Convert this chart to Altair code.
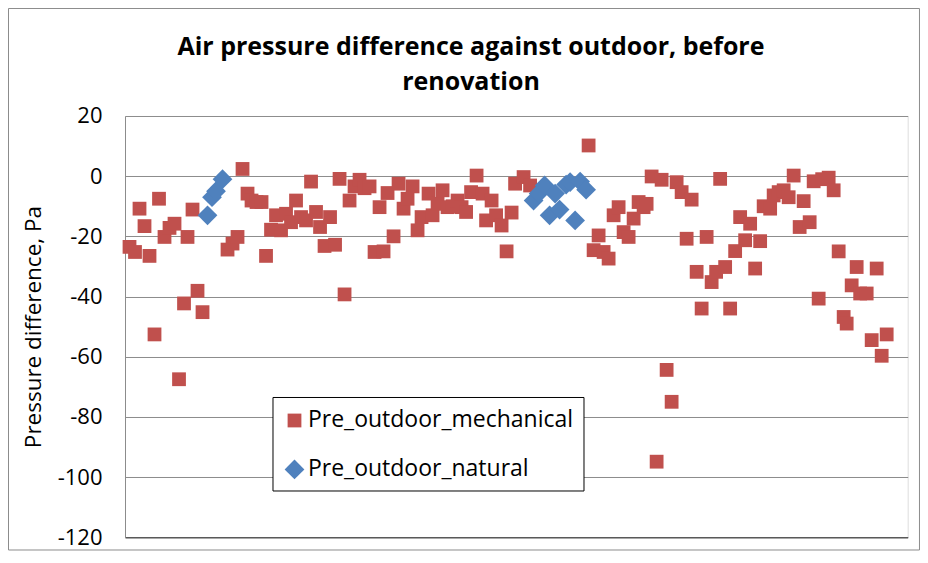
import altair as alt
import pandas as pd

# Sample position (measurement order) and pressure difference, Pa
mech_x = [0.9, 2.0, 2.9, 3.9, 4.9, 5.9, 6.8, 7.9, 8.9, 9.9, 10.8, 11.8, 12.5, 13.5, 14.5, 15.5,
          20.5, 21.5, 22.5, 23.5, 24.5, 25.3, 26.3, 27.3, 28.2, 29.2, 30.2, 31.2, 32.2, 33.2, 34.2,
          35.2, 36.2, 37.2, 38.2, 39.0, 39.9, 41.0, 42.0, 42.9, 43.9, 44.9, 45.9, 46.9, 47.9, 48.9,
          49.9, 50.9, 51.7, 52.5, 53.7, 54.7, 55.7, 56.5, 57.5, 58.5, 59.3, 60.7, 61.5, 62.5, 63.5,
          64.5, 65.5, 66.5, 67.3, 68.2, 69.2, 70.3, 71.5, 72.2, 73.3, 74.2, 75.3, 76.3, 77.3, 78.0,
          79.7, 81.0,
          92.7, 93.7, 94.7, 95.7, 96.7, 97.7, 98.7, 99.7, 100.7, 101.7, 102.7, 103.7, 104.3, 105.3,
          106.3, 107.3, 108.3, 109.3, 110.3, 111.3, 112.3, 113.3, 114.3, 115.3, 116.3, 117.3, 118.2,
          119.0, 120.0, 121.0, 122.0, 123.0, 124.0, 125.0, 126.0, 127.0, 127.7, 129.0, 129.7, 130.7,
          131.7, 132.7, 133.7, 134.9, 135.7, 136.9, 137.7, 138.7, 139.4, 140.7, 141.7, 142.7, 143.7,
          144.3, 145.3, 146.3, 147.0, 148.3, 149.3, 150.3, 151.3, 152.3]
mech_y = [-23.5, -25.2, -10.8, -16.6, -26.5, -52.6, -7.5, -20.2, -17.2, -15.8, -67.5, -42.3, -20.2,
          -11.1, -38.1, -45.2,
          -24.4, -22.4, -20.2, 2.4, -5.8, -8.1, -8.6, -8.6, -26.5, -17.8, -13.0, -18.0, -12.5, -15.3,
          -8.1, -13.6, -14.7, -1.8, -11.9, -16.9, -23.2, -13.6, -22.8, -0.9, -39.3, -8.1, -3.4, -1.2,
          -4.0, -3.4, -25.2, -10.3, -25.0, -5.6, -20.0, -2.5, -10.8, -7.5, -3.4, -18.0, -13.6, -5.8,
          -13.0, -9.2, -4.7, -10.3, -10.0, -8.1, -10.3, -11.9, -5.3, 0.2, -5.8, -14.7, -8.1, -13.0,
          -16.4, -25.0, -12.1, -2.5, -0.3, -3.1,
          10.2, -24.6, -19.7, -25.2, -27.4, -13.0, -10.3, -18.6, -20.2, -14.1, -8.6, -10.3, -9.2,
          -0.1, -94.9, -1.2, -64.4, -75.0, -2.0, -5.3, -20.8, -7.8, -31.8, -44.0, -20.2, -35.2, -31.8,
          -0.9, -30.2, -44.0, -24.9, -13.6, -21.3, -15.8, -30.7, -21.6, -10.0, -10.8, -6.4, -5.3,
          -4.7, -7.0, 0.2, -16.9, -8.3, -15.3, -1.7, -40.7, -1.0, -0.5, -4.7, -25.0, -46.8, -49.0,
          -36.3, -30.2, -39.0, -39.0, -54.5, -30.7, -59.7, -52.6]

nat_x = [16.5, 17.4, 18.2, 19.5,
         81.7, 82.7, 83.9, 84.9, 86.0, 86.9, 88.2, 89.0, 90.0, 91.0, 92.2]
nat_y = [-13.0, -7.0, -5.0, -1.0,
         -8.1, -5.8, -3.1, -13.0, -5.8, -11.1, -2.8, -2.0, -14.7, -1.8, -4.5]

series_names = ["Pre_outdoor_mechanical", "Pre_outdoor_natural"]
colors = ["#C0504D", "#4F81BD"]
shapes = ["square", "diamond"]
sizes = [190, 390]

title_lines = ["Air pressure difference against outdoor, before", "renovation"]
y_title = "Pressure difference, Pa"
y_ticks = [20, 0, -20, -40, -60, -80, -100, -120]

df = pd.concat([
    pd.DataFrame({"sample": mech_x, "value": mech_y, "series": series_names[0]}),
    pd.DataFrame({"sample": nat_x, "value": nat_y, "series": series_names[1]}),
], ignore_index=True)

one = pd.DataFrame({"k": [0]})

W, H = 782.7, 421.2
FONT = "Open Sans"

points = alt.Chart(df).mark_point(filled=True, opacity=1, strokeWidth=0).encode(
    x=alt.X("sample:Q", scale=alt.Scale(domain=[0, 156.5], nice=False, zero=False),
            axis=alt.Axis(labels=False, ticks=False, grid=False, title=None,
                          domainColor="#595959", domainWidth=1.5)),
    y=alt.Y("value:Q", scale=alt.Scale(domain=[-120, 20], nice=False),
            axis=alt.Axis(values=y_ticks, title=y_title, ticks=False, labelPadding=23,
                          labelExpr="'' + datum.value",
                          labelFontSize=22, labelFont=FONT, labelColor="#000000",
                          titleFont=FONT, titleFontSize=22.5, titleFontWeight="normal",
                          titleColor="#000000", titleX=-92, titleY=H / 2, titleAngle=-90,
                          titleAlign="center", titleBaseline="middle",
                          gridColor="#8c8c8c", gridWidth=1, domainColor="#8c8c8c")),
    color=alt.Color("series:N", scale=alt.Scale(domain=series_names, range=colors),
                    legend=alt.Legend(title=None, orient="none", legendX=158, legendY=293,
                                      labelFontSize=23, labelFont=FONT, labelColor="#000000",
                                      labelLimit=0, symbolSize=130, rowPadding=25,
                                      labelOffset=2, symbolStrokeWidth=0)),
    shape=alt.Shape("series:N", scale=alt.Scale(domain=series_names, range=shapes)),
    size=alt.Size("series:N", scale=alt.Scale(domain=series_names, range=sizes), legend=None),
    order=alt.Order("series:N"),
)

legend_box = alt.Chart(one).mark_rect(fill="white", stroke="#000000", strokeWidth=1).encode(
    x=alt.value(148), x2=alt.value(459), y=alt.value(281.5), y2=alt.value(375)
)

outer = alt.Chart(one).mark_rect(fill=None, stroke="#8c8c8c", strokeWidth=1).encode(
    x=alt.value(-116.5), x2=alt.value(794.5), y=alt.value(-107.5), y2=alt.value(434)
)

t1 = alt.Chart(one).mark_text(text=title_lines[0], font=FONT, fontSize=25, fontWeight="bold",
                              color="#000000", align="center", baseline="alphabetic").encode(
    x=alt.value(346), y=alt.value(-61))
t2 = alt.Chart(one).mark_text(text=title_lines[1], font=FONT, fontSize=25, fontWeight="bold",
                              color="#000000", align="center", baseline="alphabetic").encode(
    x=alt.value(346), y=alt.value(-26))

chart = alt.layer(outer, legend_box, points, t1, t2).properties(
    width=W, height=H,
    padding={"left": 117, "top": 108, "right": 12, "bottom": 14},
    autosize=alt.AutoSizeParams(type="none"),
).configure_view(stroke="#595959", strokeWidth=1.5).configure(background="white")

chart.save("out.html", embed_options={"renderer": "svg", "actions": False})
